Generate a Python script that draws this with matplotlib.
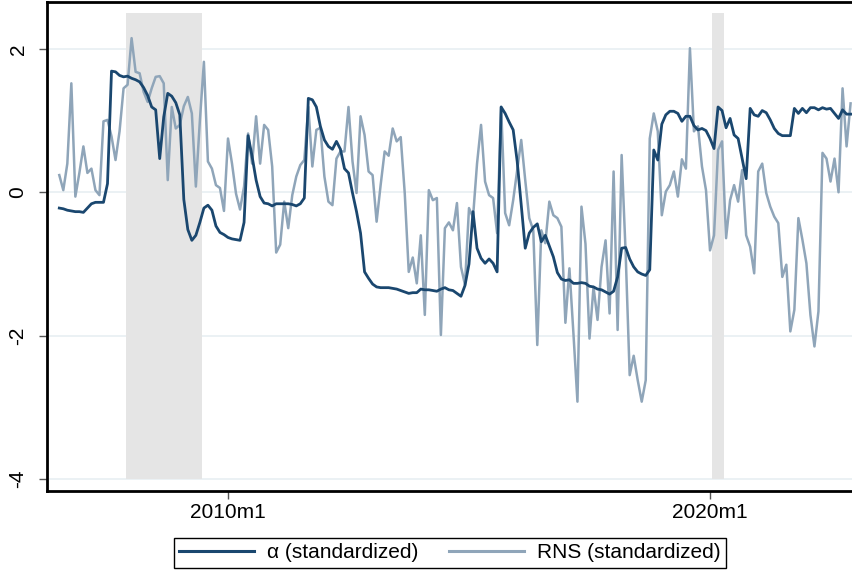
"""alpha vs RNS (both standardized), monthly, with recession shading (Stata look)."""

import matplotlib

matplotlib.use("Agg")
import matplotlib.pyplot as plt
import numpy as np
import pandas as pd
from matplotlib.lines import Line2D

plt.rcParams["font.family"] = ["Liberation Sans", "DejaVu Sans"]

NAVY, LIGHT, SHADE, GRID = "#1a476f", "#8fa5b9", "#e5e5e5", "#e8eff2"

# monthly sample 2006m7 .. 2022m12
MONTHS = pd.period_range("2006-07", "2022-12", freq="M")

ALPHA = [
    -0.22, -0.23, -0.25, -0.26, -0.27, -0.27, -0.28, -0.22, -0.16, -0.14,
    -0.14, -0.14, 0.12, 1.69, 1.68, 1.63, 1.61, 1.62, 1.59, 1.57,
    1.54, 1.46, 1.35, 1.19, 1.15, 0.47, 1.05, 1.38, 1.34, 1.25,
    1.08, -0.10, -0.52, -0.67, -0.60, -0.42, -0.22, -0.18, -0.25, -0.47,
    -0.56, -0.59, -0.63, -0.65, -0.66, -0.67, -0.42, 0.79, 0.50, 0.17,
    -0.06, -0.15, -0.16, -0.19, -0.16, -0.16, -0.16, -0.16, -0.17, -0.19,
    -0.16, -0.08, 1.31, 1.29, 1.19, 0.92, 0.73, 0.64, 0.60, 0.71,
    0.60, 0.33, 0.27, -0.01, -0.27, -0.57, -1.11, -1.20, -1.28, -1.32,
    -1.33, -1.33, -1.33, -1.34, -1.35, -1.37, -1.39, -1.41, -1.40, -1.40,
    -1.35, -1.36, -1.36, -1.37, -1.38, -1.35, -1.33, -1.36, -1.37, -1.41,
    -1.45, -1.30, -1.00, -0.27, -0.78, -0.92, -0.99, -0.93, -0.99, -1.11,
    1.19, 1.10, 0.98, 0.87, 0.43, -0.18, -0.78, -0.57, -0.49, -0.44,
    -0.69, -0.60, -0.75, -0.90, -1.12, -1.21, -1.23, -1.22, -1.27, -1.27,
    -1.26, -1.27, -1.31, -1.32, -1.35, -1.36, -1.39, -1.42, -1.38, -1.18,
    -0.78, -0.77, -0.93, -1.04, -1.11, -1.14, -1.16, -1.08, 0.59, 0.45,
    0.95, 1.08, 1.13, 1.13, 1.10, 0.99, 1.06, 1.06, 0.93, 0.87,
    0.89, 0.86, 0.75, 0.61, 1.19, 1.14, 0.90, 1.03, 0.80, 0.75,
    0.47, 0.19, 1.17, 1.08, 1.06, 1.14, 1.11, 1.01, 0.89, 0.82,
    0.79, 0.79, 0.79, 1.17, 1.10, 1.17, 1.11, 1.18, 1.18, 1.15,
    1.18, 1.16, 1.17, 1.10, 1.03, 1.15, 1.09, 1.09,
]

RNS = [
    0.24, 0.03, 0.40, 1.52, -0.06, 0.27, 0.64, 0.27, 0.33, 0.03,
    -0.04, 0.99, 1.01, 0.78, 0.45, 0.85, 1.45, 1.50, 2.15, 1.68,
    1.66, 1.40, 1.26, 1.45, 1.61, 1.62, 1.52, 0.17, 1.19, 0.89,
    0.94, 1.20, 1.33, 1.10, 0.08, 1.00, 1.82, 0.43, 0.33, 0.10,
    0.06, -0.26, 0.75, 0.40, -0.02, -0.24, 0.08, 0.82, 0.40, 1.06,
    0.40, 0.94, 0.87, 0.36, -0.84, -0.73, -0.13, -0.50, -0.04, 0.22,
    0.38, 0.45, 1.19, 0.36, 0.87, 0.90, 0.22, -0.13, -0.18, 0.47,
    0.57, 0.57, 1.19, 0.43, -0.01, 1.06, 0.80, 0.29, 0.24, -0.41,
    0.10, 0.57, 0.51, 0.89, 0.71, 0.77, -0.01, -1.11, -0.91, -1.27,
    -0.60, -1.71, 0.03, -0.11, -0.08, -1.99, -0.50, -0.42, -0.53, -0.15,
    -1.04, -1.29, -0.22, -0.35, 0.40, 0.94, 0.15, -0.04, -0.08, -0.57,
    1.19, -0.29, -0.46, -0.11, 0.31, 0.73, 0.17, -0.36, -0.53, -2.13,
    -0.53, -0.71, -0.13, -0.32, -0.36, -0.48, -1.82, -1.06, -1.97, -2.92,
    -0.20, -0.72, -2.04, -1.32, -1.78, -1.04, -0.67, -1.69, 0.29, -1.92,
    0.52, -0.85, -2.55, -2.28, -2.62, -2.92, -2.62, 0.75, 1.10, 0.85,
    -0.32, 0.01, 0.10, 0.29, -0.06, 0.46, 0.33, 2.01, 0.85, 0.92,
    0.36, 0.03, -0.81, -0.60, 0.59, 0.71, -0.64, -0.11, 0.10, -0.13,
    0.31, -0.60, -0.76, -1.13, 0.29, 0.40, -0.01, -0.20, -0.34, -0.43,
    -1.18, -1.01, -1.94, -1.64, -0.36, -0.66, -0.99, -1.71, -2.15, -1.66,
    0.55, 0.47, 0.15, 0.47, 0.00, 1.45, 0.64, 1.24,
]

# NBER recession months
RECESSIONS = [("2007-12", "2009-06"), ("2020-02", "2020-04")]
SHADE_LO, SHADE_HI = -4.0, 2.5

XTICKS = ["2010-01", "2020-01"]
XTICKLABELS = ["2010m1", "2020m1"]
YTICKS = [-4, -2, 0, 2]


def stata_month(p):
    """Stata %tm value (months since 1960m1)."""
    return (p.year - 1960) * 12 + p.month - 1


x = np.array([stata_month(p) for p in MONTHS])

fig = plt.figure(figsize=(8.53, 5.77), dpi=100)
ax = fig.add_axes([47 / 853, 1 - 491 / 577, 806 / 853, 489 / 577])

for start, end in RECESSIONS:
    rm = [stata_month(p) for p in pd.period_range(start, end, freq="M")]
    ax.bar(rm, SHADE_HI - SHADE_LO, bottom=SHADE_LO, width=1.0,
           color=SHADE, linewidth=0, zorder=1)

for yv in YTICKS:
    ax.axhline(yv, color=GRID, linewidth=1.2, zorder=0)

ax.plot(x, RNS, color=LIGHT, linewidth=1.8, zorder=3)
ax.plot(x, ALPHA, color=NAVY, linewidth=2.0, zorder=4)

ax.set_xlim(554.94, 755.6)
ax.set_ylim(-4.166, 2.654)

ax.set_xticks([stata_month(pd.Period(t, freq="M")) for t in XTICKS])
ax.set_xticklabels(XTICKLABELS)
ax.set_yticks(YTICKS)
ax.set_yticklabels([str(v) for v in YTICKS], rotation=90, va="center")
ax.tick_params(axis="both", labelsize=15, color="#555555", length=6,
               width=1, direction="out")
ax.tick_params(axis="y", pad=8)
ax.tick_params(axis="x", pad=3)

for sp in ax.spines.values():
    sp.set_linewidth(2)
    sp.set_color("black")

handles = [Line2D([], [], color=NAVY, linewidth=2.2),
           Line2D([], [], color=LIGHT, linewidth=2.2)]
fig.legend(handles, ["\u03b1 (standardized)", "RNS (standardized)"],
           loc="center", bbox_to_anchor=(450 / 853, 1 - 553 / 577),
           ncol=2, fontsize=15, frameon=True, fancybox=False,
           edgecolor="black", framealpha=1, handlelength=3.6,
           handletextpad=0.6, columnspacing=1.5, borderpad=0.28)
fig.legends[0].get_frame().set_linewidth(1.0)

fig.savefig("out.png", dpi=100)
